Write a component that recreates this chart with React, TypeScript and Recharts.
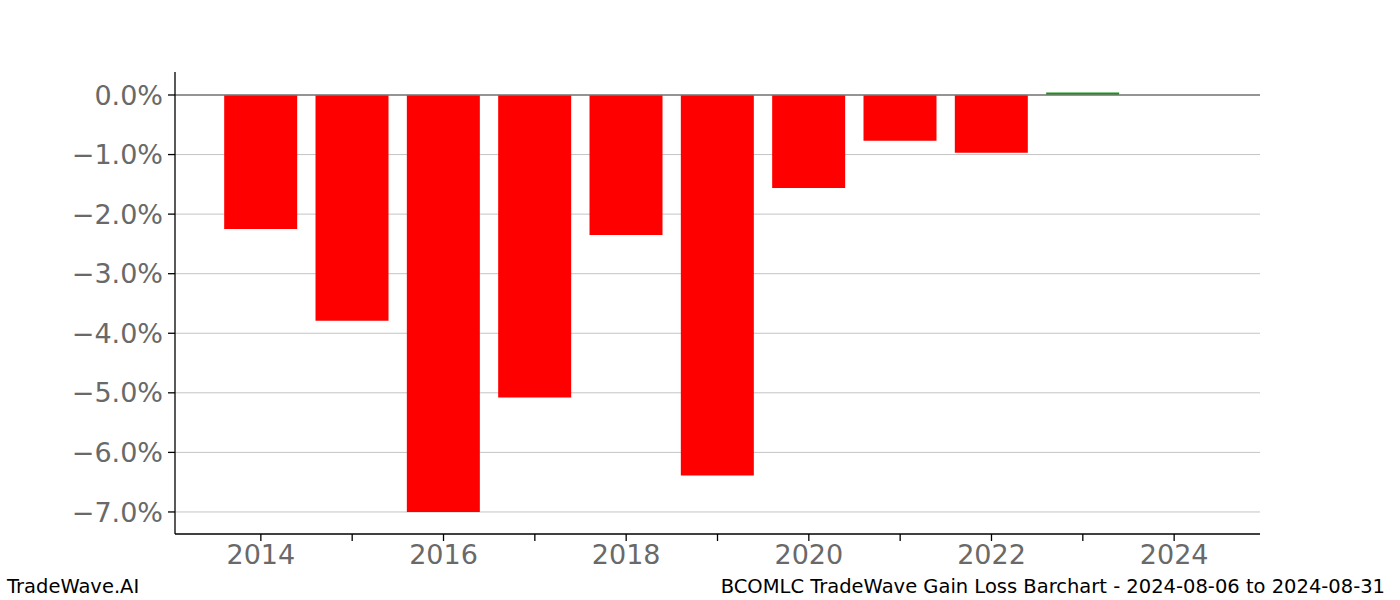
import React from "react";
import { BarChart, Bar, XAxis, YAxis, CartesianGrid, ReferenceLine, Cell } from "recharts";

const years = [2014, 2015, 2016, 2017, 2018, 2019, 2020, 2021, 2022, 2023];
const gains = [-2.25, -3.79, -7.0, -5.08, -2.35, -6.39, -1.56, -0.77, -0.97, 0.04];
const xTicks = [2014, 2015, 2016, 2017, 2018, 2019, 2020, 2021, 2022, 2023, 2024];
const yTicks = [0, -1, -2, -3, -4, -5, -6, -7];

const data = years.map((y, i) => ({ year: y, value: gains[i] }));

const FONT = "'DejaVu Sans', sans-serif";
const GRAY = "#696969";

export default function App() {
  return (
    <div style={{ position: "absolute", left: 0, top: 0, width: 1400, height: 600, background: "#fff", fontFamily: FONT }}>
      <BarChart width={1400} height={600} data={data} margin={{ top: 72, right: 140, bottom: 0, left: 0 }}>
        <CartesianGrid
          horizontal={true}
          vertical={false}
          stroke="#c4c4c4"
          strokeWidth={1}
          horizontalValues={yTicks}
        />
        <XAxis
          dataKey="year"
          type="number"
          domain={[2013.06, 2024.94]}
          ticks={xTicks}
          allowDataOverflow
          height={66}
          tickFormatter={(v: number) => (v % 2 === 0 ? String(v) : "")}
          tick={{ fill: GRAY, fontSize: 27, fontFamily: FONT }}
          axisLine={{ stroke: "#000", strokeWidth: 1.3 }}
          tickLine={{ stroke: "#000", strokeWidth: 1.3 }}
          tickSize={7}
          tickMargin={4}
          interval={0}
        />
        <YAxis
          type="number"
          domain={[-7.37, 0.386]}
          ticks={yTicks}
          allowDataOverflow
          width={175}
          tickFormatter={(v: number) => (v < 0 ? "\u2212" : "") + Math.abs(v).toFixed(1) + "%"}
          tick={{ fill: GRAY, fontSize: 27, fontFamily: FONT }}
          axisLine={{ stroke: "#000", strokeWidth: 1.3 }}
          tickLine={{ stroke: "#000", strokeWidth: 1.3 }}
          tickSize={7}
          tickMargin={5}
          interval={0}
        />
        <Bar dataKey="value" barSize={73} isAnimationActive={false}>
          {data.map((d, i) => (
            <Cell key={i} fill={d.value < 0 ? "#ff0000" : "#149614"} />
          ))}
        </Bar>
        <ReferenceLine y={0} stroke="#7a7a7a" strokeWidth={1.3} />
      </BarChart>
      <div style={{ position: "absolute", left: 7, top: 575, fontSize: 19.5, fontFamily: FONT, color: "#000" }}>TradeWave.AI</div>
      <div style={{ position: "absolute", right: 15, top: 575, fontSize: 19.5, fontFamily: FONT, color: "#000", whiteSpace: "nowrap" }}>
        BCOMLC TradeWave Gain Loss Barchart - 2024-08-06 to 2024-08-31
      </div>
    </div>
  );
}
